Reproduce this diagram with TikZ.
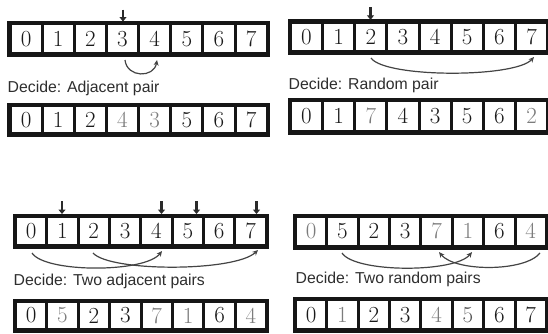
\documentclass[tikz,border=0pt]{standalone}
\usepackage{fontspec}
\newfontfamily\labelfont{Liberation Sans}
\usetikzlibrary{arrows.meta}
\definecolor{framec}{HTML}{161616}
\definecolor{dig}{HTML}{1A1A1A}
\definecolor{digg}{HTML}{7C7C7C}
\definecolor{digm}{HTML}{555555}
\definecolor{labc}{HTML}{2E2E2E}
\definecolor{curvec}{HTML}{444444}
\definecolor{markc}{HTML}{2A2A2A}
\tikzset{
  cellbox/.style={fill=white, inner sep=0pt, anchor=north west,
    font=\fontsize{23}{23}\selectfont},
  caption/.style={anchor=base west, inner sep=0pt, text=labc,
    font=\labelfont\fontsize{15.8}{18}\selectfont},
  pointer/.style={draw=markc, line width=2.6pt, -{Triangle[width=7pt,length=4.5pt]}},
  swaparc/.style={draw=curvec, line width=1.2pt, -{Stealth[length=5.5pt,width=5pt]}},
}
\newcommand\cellrow[6]{%
  \pgfmathsetmacro\rowcw{((#4)-(#2)-29)/8}%
  \pgfmathsetmacro\rowch{(#5)-(#3)-9}%
  \fill[framec] (#2,#3) rectangle (#4,#5);
  \foreach \d/\c [count=\i from 0] in {#6}{
    \node[cellbox, text=\c, minimum width=\rowcw pt, minimum height=\rowch pt]
      (#1-\i) at ({#2+4+\i*(\rowcw+3)}, {#3+4}) {\d};
  }
}
\begin{document}
\begin{tikzpicture}[x=1pt, y=-1pt]
\useasboundingbox (0,0) rectangle (548,333);
\clip (0,0) rectangle (548,333);
\fill[white] (0,0) rectangle (548,333);

% ---------- top left: adjacent pair ----------
\cellrow{tla}{7.3}{21}{269.5}{57}{0/dig,1/dig,2/dig,3/dig,4/dig,5/dig,6/dig,7/dig}
\cellrow{tlb}{7.3}{103}{269.5}{137}{0/dig,1/dig,2/dig,4/digg,3/digg,5/dig,6/dig,7/dig}
\coordinate (tlp0) at (123,9.5);
\coordinate (tlp1) at (123,21.5);
\draw[pointer] (tlp0) -- (tlp1);
\coordinate (tls) at (125,60);
\coordinate (tle) at (157,60);
\draw[swaparc] (tls) .. controls (127,78) and (154,78) .. (tle);
\node[caption] (tlcap) at (7.5,92) {Decide: Adjacent pair};

% ---------- top right: random pair ----------
\cellrow{tra}{287.7}{19.3}{549.9}{55}{0/dig,1/dig,2/dig,3/dig,4/dig,5/dig,6/dig,7/dig}
\cellrow{trb}{287.7}{97.5}{549.9}{134.5}{0/dig,1/dig,7/digg,4/dig,3/dig,5/dig,6/dig,2/digg}
\coordinate (trp0) at (370.5,7);
\coordinate (trp1) at (370.5,19.8);
\draw[pointer] (trp0) -- (trp1);
\coordinate (trs) at (371,58);
\coordinate (tre) at (534,57);
\draw[swaparc] (trs) .. controls (385,78) and (515,78) .. (tre);
\node[caption] (trcap) at (288.5,89) {Decide: Random pair};

% ---------- bottom left: two adjacent pairs ----------
\cellrow{bla}{12.7}{213.5}{268.5}{248.5}{0/dig,1/dig,2/dig,3/dig,4/dig,5/dig,6/dig,7/dig}
\cellrow{blb}{12.7}{298.5}{269}{333}{0/dig,5/digg,2/dig,3/dig,7/digg,1/digg,6/dig,4/digg}
\foreach \px [count=\k] in {62,161.5,196.5,256.5}{
  \coordinate (blp\k a) at (\px,201);
  \coordinate (blp\k b) at (\px,214);
  \draw[pointer] (blp\k a) -- (blp\k b);
}
\coordinate (blsa) at (32,253);
\coordinate (blea) at (162,251);
\coordinate (blsb) at (93,253);
\coordinate (bleb) at (258,250);
\draw[swaparc] (blsa) .. controls (45,273) and (145,273) .. (blea);
\draw[swaparc] (blsb) .. controls (110,272) and (235,272) .. (bleb);
\node[caption] (blcap) at (13.5,285.5) {Decide: Two adjacent pairs};

% ---------- bottom right: two random pairs ----------
\cellrow{bra}{292.7}{213.5}{548.7}{249.5}{0/digg,5/dig,2/dig,3/dig,7/digg,1/digg,6/dig,4/digg}
\cellrow{brb}{292.7}{297}{548.7}{333}{0/dig,1/digg,2/dig,3/dig,4/digg,5/digm,6/dig,7/dig}
\coordinate (brsc) at (342,253);
\coordinate (brec) at (472,252);
\coordinate (brsd) at (540,253);
\coordinate (bred) at (439,252);
\draw[swaparc] (brsc) .. controls (355,273) and (455,273) .. (brec);
\draw[swaparc] (brsd) .. controls (525,272) and (455,272) .. (bred);
\node[caption] (brcap) at (295.5,283) {Decide: Two random pairs};
\end{tikzpicture}
\end{document}
